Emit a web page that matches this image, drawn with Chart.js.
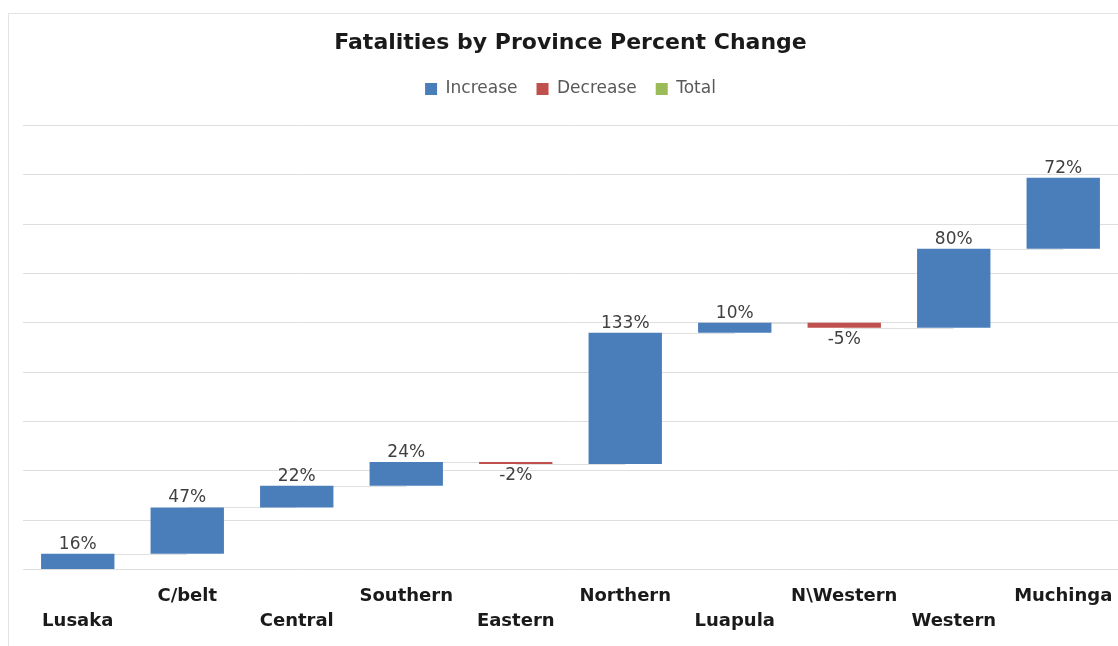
<!DOCTYPE html>
<html>
<head>
<meta charset="utf-8">
<script src="https://cdn.jsdelivr.net/npm/chart.js@4.4.1/dist/chart.umd.min.js"></script>
<style>
  html, body { margin: 0; padding: 0; background: #fff; }
  #wrap { position: relative; width: 1118px; height: 646px; overflow: hidden; }
  #frame { position: absolute; left: 8px; top: 13px; width: 1200px; height: 700px;
           border-left: 1px solid #e3e3e3; border-top: 1px solid #e3e3e3; }
  #chart { position: absolute; left: 0; top: 0; }
</style>
</head>
<body>
<div id="wrap">
  <div id="frame"></div>
  <canvas id="chart" width="1118" height="646"></canvas>
</div>
<script>
// Waterfall data
var categories = ['Lusaka', 'C/belt', 'Central', 'Southern', 'Eastern', 'Northern', 'Luapula', 'N\\Western', 'Western', 'Muchinga'];
var changes = [16, 47, 22, 24, -2, 133, 10, -5, 80, 72];
var seriesNames = ['Increase', 'Decrease', 'Total'];

var blue = '#4a7ebb';
var red = '#c0504d';
var green = '#9bbb59';

// build floating ranges from the running total
var incData = [], decData = [], totData = [];
var running = 0;
for (var i = 0; i < changes.length; i++) {
    var start = running;
    running += changes[i];
    if (changes[i] >= 0) {
        incData.push([start, running]);
        decData.push(null);
    } else {
        incData.push(null);
        decData.push([running, start]);
    }
    totData.push(null);
}

var fontFam = '"DejaVu Sans", Verdana, sans-serif';

// value labels and connectors
var waterfallLabels = {
    id: 'waterfallLabels',
    beforeDatasetsDraw: function(chart) {
        var ctx = chart.ctx;
        var y = chart.scales.y;
        var x = chart.scales.x;
        var level = 0;
        ctx.save();
        ctx.strokeStyle = '#e0e0e0';
        ctx.lineWidth = 1;
        for (var i = 0; i < changes.length - 1; i++) {
            level += changes[i];
            var py = Math.round(y.getPixelForValue(level)) + 0.5;
            ctx.beginPath();
            ctx.moveTo(x.getPixelForValue(i), py);
            ctx.lineTo(x.getPixelForValue(i + 1), py);
            ctx.stroke();
        }
        ctx.restore();
    },
    afterDatasetsDraw: function(chart) {
        var ctx = chart.ctx;
        var y = chart.scales.y;
        ctx.save();
        ctx.font = '17px ' + fontFam;
        ctx.fillStyle = '#404040';
        ctx.textAlign = 'center';
        [0, 1].forEach(function(d) {
            var meta = chart.getDatasetMeta(d);
            var data = chart.data.datasets[d].data;
            meta.data.forEach(function(bar, idx) {
                if (!data[idx]) return;
                var txt = changes[idx] + '%';
                if (d === 0) {
                    ctx.textBaseline = 'bottom';
                    ctx.fillText(txt, bar.x, y.getPixelForValue(data[idx][1]) - 1);
                } else {
                    ctx.textBaseline = 'top';
                    ctx.fillText(txt, bar.x, y.getPixelForValue(data[idx][0]) + 3);
                }
            });
        });
        ctx.restore();
    }
};

var legendSpace = {
    id: 'legendSpace',
    beforeInit: function(chart) {
        var origFit = chart.legend.fit;
        chart.legend.fit = function() {
            origFit.bind(chart.legend)();
            this.height += 18;
        };
    }
};

new Chart(document.getElementById('chart'), {
    type: 'bar',
    data: {
        labels: categories,
        datasets: [
            { label: seriesNames[0], data: incData, backgroundColor: blue, grouped: false },
            { label: seriesNames[1], data: decData, backgroundColor: red, grouped: false },
            { label: seriesNames[2], data: totData, backgroundColor: green, grouped: false }
        ]
    },
    options: {
        responsive: false,
        animation: false,
        layout: { padding: { top: 30, left: 23, right: 0, bottom: 0 } },
        barPercentage: 0.67,
        categoryPercentage: 1,
        plugins: {
            title: {
                display: true,
                text: 'Fatalities by Province Percent Change',
                color: '#1a1a1a',
                font: { family: fontFam, size: 22, weight: 'bold' },
                padding: { top: 0, bottom: 5 }
            },
            legend: {
                display: true,
                labels: {
                    boxWidth: 12,
                    boxHeight: 12,
                    color: '#595959',
                    padding: 19,
                    font: { family: fontFam, size: 17 }
                }
            },
            tooltip: { enabled: false }
        },
        scales: {
            x: {
                grid: { display: false, drawTicks: false },
                border: { display: false },
                afterFit: function(scale) {
                    scale.paddingRight = 0;
                    scale.paddingLeft = 0;
                    scale.height -= 2;
                },
                ticks: {
                    autoSkip: false,
                    maxRotation: 0,
                    padding: 14,
                    color: '#1a1a1a',
                    font: { family: fontFam, size: 18, weight: 'bold', lineHeight: 1.4 },
                    callback: function(value, index) {
                        var l = this.getLabelForValue(value);
                        return index % 2 ? [l, ''] : ['', l];
                    }
                }
            },
            y: {
                min: 0,
                max: 450,
                ticks: { display: false, stepSize: 50 },
                grid: { color: '#dedede', drawTicks: false },
                border: { display: false }
            }
        }
    },
    plugins: [waterfallLabels, legendSpace]
});
</script>
</body>
</html>
